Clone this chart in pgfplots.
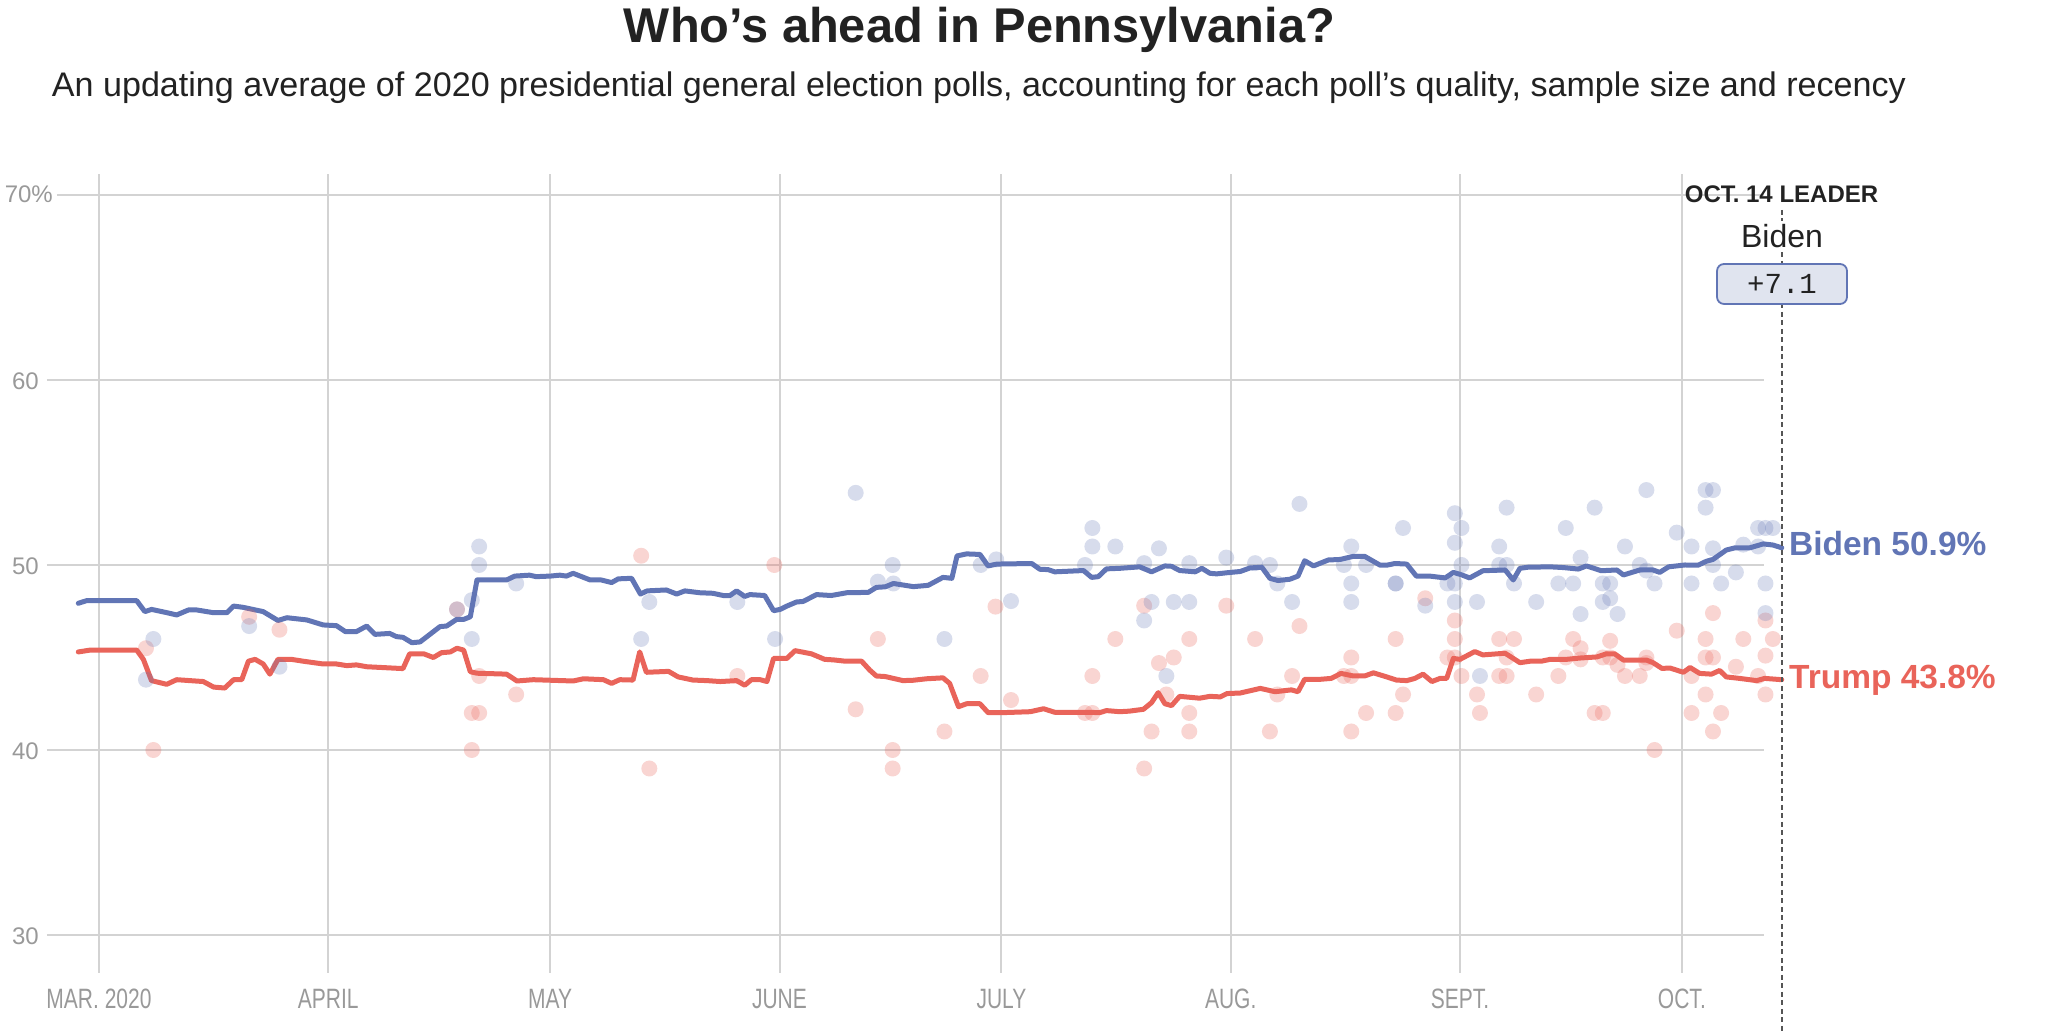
\documentclass[border=0pt]{standalone}
\usepackage{pgfplots}
\pgfplotsset{compat=1.18}
\usepackage{graphicx}
\usepackage{fontspec}
\setmainfont{Liberation Sans}
\newfontfamily\monofont{Liberation Mono}
\definecolor{bidenc}{HTML}{6175B5}
\definecolor{trumpc}{HTML}{E9645A}
\definecolor{gridc}{HTML}{D3D3D3}
\definecolor{tickc}{HTML}{999999}
\definecolor{darkc}{HTML}{222222}
\definecolor{boxfill}{HTML}{E0E4EF}
\definecolor{dashc}{HTML}{555555}

\pgfplotstableread{
day val
7.35 46.0
6.35 43.8
20.3 46.7
24.4 44.5
48.4 47.6
50.4 48.1
50.4 46.0
51.4 51.0
51.4 50.0
56.4 49.0
74.4 48.0
73.3 46.0
86.3 48.0
91.4 46.0
102.3 53.9
107.3 50.0
105.3 49.1
107.4 49.0
114.3 46.0
119.2 50.0
121.3 50.3
123.3 48.05
134.3 52.0
134.3 51.0
137.4 51.0
133.3 50.0
141.3 50.1
141.3 47.0
142.3 48.0
143.3 50.9
144.3 44.0
145.3 48.0
147.4 50.1
147.4 48.0
152.4 50.4
156.3 50.1
158.3 50.0
159.3 49.0
161.3 48.0
162.3 53.3
168.3 50.0
169.3 51.0
169.3 49.0
169.3 48.0
171.3 50.0
175.3 49.0
175.3 49.0
176.3 52.0
179.3 47.8
182.3 49.0
183.3 52.8
184.2 52.0
183.3 51.2
184.2 50.0
183.3 49.0
183.3 48.0
186.3 48.0
186.7 44.0
189.3 51.0
189.3 50.0
190.3 50.0
190.3 53.1
191.3 49.0
194.3 48.0
197.3 49.0
198.3 52.0
199.3 49.0
200.3 50.4
200.3 47.35
202.2 53.1
203.3 49.0
203.3 48.0
204.3 49.0
204.3 48.2
205.3 47.35
206.3 51.0
208.3 50.0
209.2 54.05
209.2 49.7
210.3 49.0
213.3 51.75
215.3 51.0
215.3 49.0
217.2 54.05
218.2 54.05
217.2 53.1
218.2 50.9
218.2 50.0
219.3 49.0
221.3 49.6
222.3 51.1
224.3 52.0
225.3 52.0
226.3 52.0
224.3 51.0
225.3 49.0
225.3 47.4
}\bidenpolls

\pgfplotstableread{
day val
6.35 45.5
7.35 40.0
20.3 47.2
24.4 46.5
48.4 47.6
51.4 44.0
50.4 42.0
51.4 42.0
50.4 40.0
56.4 43.0
73.3 50.5
74.4 39.0
86.3 44.0
91.3 50.0
102.3 42.2
105.3 46.0
107.3 40.0
107.3 39.0
114.3 41.0
119.2 44.0
121.2 47.75
123.3 42.7
133.3 42.0
134.3 42.0
134.3 44.0
137.4 46.0
141.3 47.8
142.3 41.0
143.3 44.7
144.3 43.0
145.3 45.0
147.4 46.0
147.4 42.0
147.4 41.0
141.3 39.0
152.4 47.8
156.3 46.0
158.3 41.0
159.3 43.0
161.3 44.0
162.3 46.7
168.3 44.0
169.3 45.0
169.3 44.0
169.3 41.0
171.3 42.0
175.3 46.0
176.3 43.0
175.3 42.0
179.3 48.2
182.3 45.0
183.3 47.0
183.3 46.0
183.3 45.0
184.2 44.0
186.3 43.0
186.7 42.0
189.3 46.0
189.3 44.0
190.3 44.0
190.3 45.0
191.3 46.0
194.3 43.0
197.3 44.0
198.3 45.0
199.3 46.0
200.3 45.5
200.3 44.9
202.2 42.0
203.3 42.0
203.3 45.0
204.3 45.9
204.3 45.0
205.3 44.6
206.3 44.0
208.3 44.0
209.2 45.0
209.2 44.7
210.3 40.0
213.3 46.45
215.3 44.0
215.3 42.0
217.2 46.0
217.2 45.0
218.2 45.0
217.2 43.0
218.2 47.4
219.3 42.0
218.2 41.0
221.3 44.5
222.3 46.0
224.3 44.0
225.3 47.0
225.3 45.1
225.3 43.0
226.3 46.0
}\trumppolls

\pgfplotstableread{
day val
-2.8 47.93
-1.7 48.07
5.1 48.07
6.2 47.48
7.1 47.6
9.2 47.42
10.5 47.3
12.1 47.57
13.2 47.57
15.5 47.42
17.3 47.42
18.2 47.78
19.5 47.71
22.2 47.48
24.2 47.0
25.4 47.15
28.1 47.03
30.3 46.76
32.1 46.72
33.3 46.4
34.8 46.4
36.2 46.7
37.3 46.25
39.3 46.3
40.2 46.13
41.1 46.09
42.3 45.8
43.4 45.84
46.1 46.67
47.0 46.7
48.35 47.06
49.3 47.06
50.2 47.2
51.1 49.19
55.1 49.19
56.2 49.4
58.2 49.45
59.1 49.37
61.0 49.4
62.3 49.45
63.2 49.4
64.1 49.55
66.4 49.19
67.9 49.19
69.3 49.05
70.2 49.25
72.0 49.28
73.2 48.43
74.1 48.6
76.7 48.65
78.1 48.43
79.2 48.6
81.2 48.5
83.0 48.47
84.4 48.35
85.3 48.35
86.2 48.6
87.3 48.3
88.0 48.4
90.0 48.35
91.2 47.53
92.1 47.6
93.0 47.78
94.3 48.0
95.2 48.03
97.0 48.4
99.0 48.35
101.1 48.5
104.0 48.52
105.1 48.79
106.3 48.82
107.4 49.0
110.1 48.83
112.1 48.9
114.1 49.33
115.3 49.28
116.0 50.49
117.3 50.6
119.1 50.57
120.2 49.95
121.4 50.05
126.1 50.08
127.2 49.77
128.3 49.75
129.2 49.63
133.1 49.7
134.2 49.33
135.1 49.37
136.2 49.79
138.0 49.82
140.7 49.9
142.3 49.63
144.1 49.95
145.0 49.93
146.1 49.7
148.2 49.63
149.1 49.82
150.2 49.55
151.1 49.52
152.5 49.58
154.3 49.65
155.6 49.84
157.2 49.88
158.3 49.28
159.4 49.16
161.0 49.23
162.1 49.4
163.0 50.23
164.2 49.95
166.2 50.27
167.8 50.3
169.6 50.47
171.1 50.47
173.2 49.99
174.1 49.99
175.2 50.08
176.8 50.05
178.1 49.4
179.9 49.4
182.0 49.3
183.1 49.6
184.2 49.47
185.3 49.3
186.7 49.6
187.1 49.69
190.1 49.73
191.2 49.19
192.1 49.82
193.2 49.88
196.2 49.9
198.0 49.86
200.0 49.78
201.1 49.95
203.1 49.69
205.2 49.73
206.1 49.46
208.3 49.73
210.1 49.73
211.0 49.6
212.2 49.9
213.3 49.95
214.4 50.0
216.2 49.99
217.3 50.2
218.2 50.3
220.0 50.81
221.2 50.93
223.2 50.93
225.0 51.14
226.3 51.08
227.5 50.93
}\bidenavg

\pgfplotstableread{
day val
-2.8 45.3
-1.2 45.4
5.1 45.4
6.0 44.9
7.1 43.75
9.15 43.55
10.5 43.8
14.1 43.7
15.5 43.4
17.0 43.35
18.2 43.8
19.3 43.8
20.2 44.8
21.1 44.9
22.2 44.65
23.1 44.1
24.2 44.9
26.0 44.9
27.6 44.8
30.3 44.65
32.1 44.65
33.5 44.56
34.8 44.6
36.2 44.5
41.1 44.4
42.0 45.2
43.9 45.2
45.2 45.0
46.3 45.26
47.5 45.3
48.4 45.5
49.3 45.4
50.2 44.23
51.1 44.15
55.1 44.1
56.5 43.73
58.7 43.8
64.1 43.73
65.5 43.85
68.2 43.8
69.3 43.6
70.4 43.8
72.2 43.78
73.1 45.3
74.0 44.2
77.0 44.25
78.3 43.95
80.3 43.78
82.2 43.75
84.0 43.7
86.2 43.75
87.3 43.5
88.2 43.8
89.4 43.8
90.3 43.7
91.2 44.95
93.0 44.95
94.1 45.37
96.3 45.2
98.1 44.9
99.3 44.87
100.9 44.8
103.1 44.8
104.2 44.32
105.1 44.0
106.3 43.97
108.7 43.75
110.1 43.77
111.9 43.85
114.1 43.9
115.0 43.6
116.2 42.34
117.3 42.5
119.1 42.5
120.2 42.02
122.3 42.02
125.9 42.07
127.7 42.23
129.2 42.04
133.1 42.04
135.3 42.02
136.2 42.13
138.0 42.07
139.3 42.1
141.2 42.2
142.3 42.56
143.2 43.1
144.1 42.5
145.0 42.4
146.1 42.9
148.8 42.8
150.2 42.9
151.6 42.87
152.5 43.05
154.3 43.08
157.0 43.33
159.0 43.15
160.1 43.2
161.2 43.25
162.1 43.15
163.0 43.82
165.1 43.82
166.6 43.87
167.9 44.14
169.6 44.0
171.1 44.0
172.3 44.17
174.1 43.95
175.4 43.78
176.8 43.75
177.9 43.87
179.0 44.1
180.2 43.7
181.3 43.87
182.2 43.87
183.1 44.95
184.0 44.9
186.0 45.32
187.1 45.14
190.1 45.23
192.1 44.72
193.5 44.8
195.0 44.8
196.2 44.9
198.4 44.9
200.2 44.97
202.5 45.03
203.8 45.2
204.9 45.2
206.1 44.86
209.2 44.86
210.1 44.72
211.3 44.41
212.4 44.43
214.2 44.2
215.1 44.46
216.4 44.14
218.0 44.1
219.1 44.3
220.0 43.95
221.8 43.87
224.1 43.75
225.2 43.87
227.5 43.8
}\trumpavg

\newcommand{\xlab}[1]{\scalebox{0.75}[1]{\fontsize{28}{28}\selectfont #1}}

\begin{document}
\begin{tikzpicture}[x=1pt,y=1pt]
\useasboundingbox (0,0) rectangle (2048,1032);

% title and subtitle
\node[anchor=base, inner sep=0pt, text=darkc] at (979.5,989)
  {\resizebox{711pt}{!}{\fontsize{48}{56}\selectfont\bfseries Who’s ahead in Pennsylvania?}};
\node[anchor=base, inner sep=0pt, text=darkc] at (979,935)
  {\resizebox{1854pt}{!}{\fontsize{29}{34}\selectfont An updating average of 2020 presidential general election polls, accounting for each poll’s quality, sample size and recency}};

\begin{axis}[
  at={(47pt,59pt)}, anchor=south west,
  scale only axis, width=1717pt, height=799pt,
  xmin=-7.03, xmax=225.1, ymin=27.946, ymax=71.135,
  hide axis, clip=false,
]
% grid
\draw[gridc, line width=2pt] (axis cs:-7.03,30) -- (axis cs:225.1,30);
\draw[gridc, line width=2pt] (axis cs:-7.03,40) -- (axis cs:225.1,40);
\draw[gridc, line width=2pt] (axis cs:-7.03,50) -- (axis cs:225.1,50);
\draw[gridc, line width=2pt] (axis cs:-7.03,60) -- (axis cs:225.1,60);
\draw[gridc, line width=2pt] (axis cs:-5.68,70) -- (axis cs:225.1,70);
\draw[gridc, line width=2pt] (axis cs:0,27.946) -- (axis cs:0,71.135);
\draw[gridc, line width=2pt] (axis cs:31,27.946) -- (axis cs:31,71.135);
\draw[gridc, line width=2pt] (axis cs:61,27.946) -- (axis cs:61,71.135);
\draw[gridc, line width=2pt] (axis cs:92,27.946) -- (axis cs:92,71.135);
\draw[gridc, line width=2pt] (axis cs:122,27.946) -- (axis cs:122,71.135);
\draw[gridc, line width=2pt] (axis cs:153,27.946) -- (axis cs:153,71.135);
\draw[gridc, line width=2pt] (axis cs:184,27.946) -- (axis cs:184,71.135);
\draw[gridc, line width=2pt] (axis cs:214,27.946) -- (axis cs:214,71.135);

% y labels
\node[anchor=base east, inner sep=0pt, text=tickc, font=\fontsize{24}{24}\selectfont] at (axis cs:-7.03,69.57) [xshift=6pt] {70\%};
\node[anchor=base east, inner sep=0pt, text=tickc, font=\fontsize{24}{24}\selectfont] at (axis cs:-7.03,59.51) [xshift=-8pt] {60};
\node[anchor=base east, inner sep=0pt, text=tickc, font=\fontsize{24}{24}\selectfont] at (axis cs:-7.03,49.51) [xshift=-8pt] {50};
\node[anchor=base east, inner sep=0pt, text=tickc, font=\fontsize{24}{24}\selectfont] at (axis cs:-7.03,39.51) [xshift=-8pt] {40};
\node[anchor=base east, inner sep=0pt, text=tickc, font=\fontsize{24}{24}\selectfont] at (axis cs:-7.03,29.51) [xshift=-8pt] {30};

% x labels
\node[anchor=base, inner sep=0pt, text=tickc] at (axis cs:0,26.04) {\xlab{MAR. 2020}};
\node[anchor=base, inner sep=0pt, text=tickc] at (axis cs:31,26.04) {\xlab{APRIL}};
\node[anchor=base, inner sep=0pt, text=tickc] at (axis cs:61,26.04) {\xlab{MAY}};
\node[anchor=base, inner sep=0pt, text=tickc] at (axis cs:92,26.04) {\xlab{JUNE}};
\node[anchor=base, inner sep=0pt, text=tickc] at (axis cs:122,26.04) {\xlab{JULY}};
\node[anchor=base, inner sep=0pt, text=tickc] at (axis cs:153,26.04) {\xlab{AUG.}};
\node[anchor=base, inner sep=0pt, text=tickc] at (axis cs:184,26.04) {\xlab{SEPT.}};
\node[anchor=base, inner sep=0pt, text=tickc] at (axis cs:214,26.04) {\xlab{OCT.}};

% polls
\addplot[only marks, mark=*, mark size=8pt, color=trumpc, mark options={solid, draw opacity=0, line width=0pt, fill=trumpc, fill opacity=0.27}] table[x=day, y=val] {\trumppolls};
\addplot[only marks, mark=*, mark size=8pt, color=bidenc, mark options={solid, draw opacity=0, line width=0pt, fill=bidenc, fill opacity=0.25}] table[x=day, y=val] {\bidenpolls};

% averages
\addplot[no marks, trumpc, line width=5pt, line join=round, line cap=round] table[x=day, y=val] {\trumpavg};
\addplot[no marks, bidenc, line width=5pt, line join=round, line cap=round] table[x=day, y=val] {\bidenavg};

% end labels
\node[anchor=base west, inner sep=0pt, text=bidenc, font=\fontsize{33.5}{34}\selectfont\bfseries] at (axis cs:228.47,50.49) {Biden 50.9\%};
\node[anchor=base west, inner sep=0pt, text=trumpc, font=\fontsize{33.5}{34}\selectfont\bfseries] at (axis cs:228.47,43.34) {Trump 43.8\%};
\end{axis}

% leader annotation
\draw[dashc, line width=2pt, dash pattern=on 5pt off 3.5pt] (1782,822) -- (1782,0);
\node[anchor=base, inner sep=0pt, text=darkc, font=\fontsize{24}{24}\selectfont\bfseries] at (1781.5,829) {OCT. 14 LEADER};
\node[anchor=base, inner sep=3pt, fill=white, text=darkc, font=\fontsize{32}{32}\selectfont] at (1782,784.7) {Biden};
\draw[bidenc, line width=1.8pt, fill=boxfill, rounded corners=7pt] (1717,768) rectangle (1847,728);
\node[anchor=center, inner sep=0pt, text=darkc, font=\fontsize{29}{29}\selectfont\monofont] at (1782,748) {+7.1};
\end{tikzpicture}
\end{document}
